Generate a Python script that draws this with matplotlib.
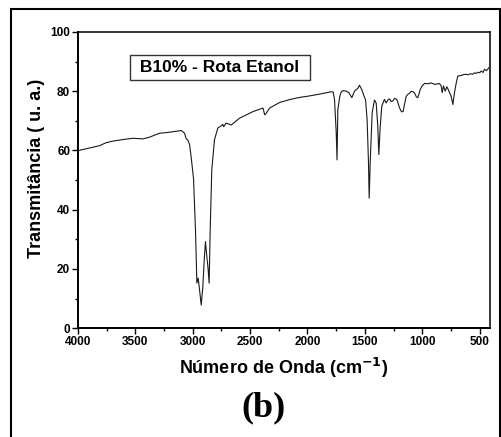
import matplotlib
matplotlib.use('Agg')
import matplotlib.pyplot as plt
from matplotlib.patches import Rectangle
from matplotlib.ticker import MultipleLocator

# FTIR spectrum (wavenumber cm-1, transmittance u.a.)
wavenumber = [4000, 3900, 3811, 3753, 3700, 3620, 3520, 3433, 3380, 3288, 3230, 3172,
              3120, 3099, 3070, 3056, 3041, 3026, 3012, 2992, 2975, 2963, 2951,
              2943, 2925, 2911, 2899, 2888, 2876, 2866, 2856, 2847, 2833, 2809,
              2780, 2750, 2737, 2730, 2708, 2663, 2590, 2474, 2387, 2372, 2358,
              2329, 2241, 2150, 2067, 1980, 1895, 1820, 1793, 1776, 1764, 1749,
              1742, 1735, 1718, 1706, 1689, 1662, 1640, 1613, 1600, 1590, 1560,
              1546, 1536, 1527, 1506, 1494, 1480, 1468, 1462, 1453, 1436, 1416,
              1401, 1387, 1378, 1366, 1352, 1329, 1314, 1300, 1285, 1270, 1256,
              1240, 1221, 1198, 1180, 1166, 1154, 1140, 1126, 1110, 1096, 1080,
              1067, 1050, 1038, 1017, 1000, 980, 950, 922, 893, 870, 850, 835,
              826, 815, 800, 786, 775, 768, 748, 733, 719, 705, 690, 660, 640,
              617, 600, 580, 560, 545, 530, 515, 500, 485, 470, 458, 440, 420]
transmit = [59.9, 60.8, 61.6, 62.6, 63.1, 63.6, 64.1, 63.9, 64.4, 65.8, 66.0, 66.3,
            66.6, 66.7, 65.8, 63.9, 63.5, 61.9, 57.5, 50.5, 33.2, 15.2, 16.9,
            14.0, 7.8, 14.0, 23.0, 29.2, 24.1, 20.5, 15.2, 33.0, 53.5, 63.7,
            67.6, 68.3, 68.8, 68.0, 69.2, 68.6, 70.9, 73.1, 74.3, 72.0, 72.6,
            74.3, 76.2, 77.2, 77.9, 78.4, 79.0, 79.6, 79.8, 79.7, 77.2, 66.0,
            56.8, 73.8, 78.2, 79.7, 80.2, 80.0, 79.5, 77.8, 79.0, 80.0, 81.0,
            82.0, 81.2, 80.6, 78.2, 77.2, 70.4, 55.9, 43.9, 56.0, 72.7, 77.0,
            76.0, 68.2, 58.6, 68.0, 75.0, 77.2, 76.0, 77.0, 77.4, 76.5, 76.7,
            77.6, 77.2, 74.4, 73.0, 73.2, 75.6, 78.2, 78.9, 79.3, 79.9, 79.8,
            79.4, 78.0, 77.8, 80.6, 81.8, 82.6, 82.5, 82.8, 82.3, 82.4, 82.6, 81.8,
            79.5, 81.8, 80.0, 81.5, 80.7, 80.0, 78.3, 75.5, 79.5, 82.5, 85.1, 85.3, 85.6,
            85.7, 85.5, 85.9, 85.7, 86.2, 86.0, 86.4, 86.2, 86.8, 86.3, 87.4, 86.9, 87.9]

plt.rcParams['font.family'] = ['Liberation Sans', 'DejaVu Sans']

fig = plt.figure(figsize=(5.02, 4.37), dpi=100)
ax = fig.add_axes([0.155, 0.249, 0.821, 0.678])

ax.plot(wavenumber, transmit, color='#1a1a1a', lw=0.8)

ax.set_xlim(4000, 410)
ax.set_ylim(0, 100)
ax.xaxis.set_major_locator(MultipleLocator(500))
ax.xaxis.set_minor_locator(MultipleLocator(250))
ax.yaxis.set_major_locator(MultipleLocator(20))
ax.yaxis.set_minor_locator(MultipleLocator(10))
ax.tick_params(which='major', length=4, width=1.0, labelsize=8.5, pad=1.5)
ax.tick_params(which='minor', length=2.5, width=1.0)
for lab in ax.get_xticklabels() + ax.get_yticklabels():
    lab.set_fontweight('bold')
for sp in ['left', 'bottom']:
    ax.spines[sp].set_linewidth(1.4)
for sp in ['top', 'right']:
    ax.spines[sp].set_linewidth(1.1)

ax.set_xlabel('Número de Onda (cm$^{\\mathbf{-1}}$)', fontsize=13, fontweight='bold', labelpad=6)
ax.set_ylabel('Transmitância ( u. a.)', fontsize=13, fontweight='bold')
ax.yaxis.set_label_coords(-0.08, 0.54)

ax.text(0.345, 0.88, ' B10% - Rota Etanol ', transform=ax.transAxes, fontsize=12.5,
        fontweight='bold', ha='center', va='center',
        bbox=dict(boxstyle='square,pad=0.3', fc='white', ec='#333333', lw=1.0))

fig.text(0.524, 0.066, '(b)', fontsize=26, fontweight='bold',
         family=['Liberation Serif', 'DejaVu Serif'], ha='center', va='center')

fig.patches.append(Rectangle((11 / 502, -0.05), 489 / 502, 1 - 9 / 437 + 0.05,
                             transform=fig.transFigure, fill=False, ec='black', lw=1.5))

fig.savefig('out.png', dpi=100)
